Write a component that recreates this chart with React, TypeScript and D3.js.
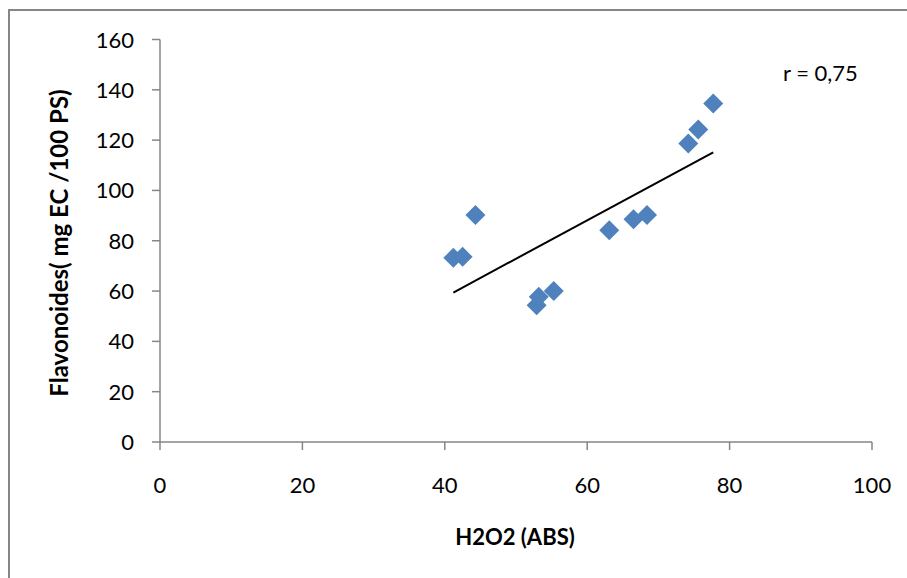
import React from "react";
import * as d3 from "d3";

const h2o2 = [41.2, 42.5, 44.3, 52.9, 53.2, 55.3, 63.1, 66.5, 68.4, 74.2, 75.6, 77.7];
const flavonoides = [73.2, 73.6, 90.2, 54.4, 57.7, 60.0, 84.2, 88.5, 90.2, 118.7, 124.2, 134.6];
const xTicks = [0, 20, 40, 60, 80, 100];
const yTicks = [0, 20, 40, 60, 80, 100, 120, 140, 160];
const xTitle = "H2O2 (ABS)";
const yTitle = "Flavonoides( mg EC /100 PS)";
const rLabel = "r = 0,75";

const W = 907;
const H = 578;
const FONT = "Lato, 'Open Sans', sans-serif";
const AXIS = "#868686";

export default function App() {
  const x = d3.scaleLinear().domain([0, 100]).range([160, 872]);
  const y = d3.scaleLinear().domain([0, 160]).range([442, 39.5]);

  const mx = d3.mean(h2o2) as number;
  const my = d3.mean(flavonoides) as number;
  let sxy = 0, sxx = 0;
  h2o2.forEach((v, i) => {
    sxy += (v - mx) * (flavonoides[i] - my);
    sxx += (v - mx) * (v - mx);
  });
  const slope = sxy / sxx;
  const icpt = my - slope * mx;
  const x0 = d3.min(h2o2) as number;
  const x1 = d3.max(h2o2) as number;
  const line = d3.line<number>().x((d) => x(d)).y((d) => y(icpt + slope * d));

  const diamond = d3.symbol().type(d3.symbolSquare).size(200)();

  return (
    <svg width={W} height={H} style={{ position: "absolute", left: 0, top: 0, background: "#fff" }}>
      <rect x={0} y={0} width={W} height={H} fill="#fff" />
      <rect x={9} y={10} width={W + 20} height={H + 20} fill="none" stroke={AXIS} strokeWidth={2} />
      <line x1={x(0)} x2={x(100)} y1={y(0)} y2={y(0)} stroke={AXIS} strokeWidth={1.5} />
      <line x1={x(0)} x2={x(0)} y1={y(0)} y2={y(160)} stroke={AXIS} strokeWidth={1.5} />
      {yTicks.map((t) => (
        <g key={"y" + t}>
          <line x1={x(0) - 8} x2={x(0)} y1={y(t)} y2={y(t)} stroke={AXIS} strokeWidth={1.5} />
          <text x={134} y={y(t) + 8} textAnchor="end" fontFamily={FONT} fontSize={22} fill="#000">
            {t}
          </text>
        </g>
      ))}
      {xTicks.map((t) => (
        <g key={"x" + t}>
          <line x1={x(t)} x2={x(t)} y1={y(0)} y2={y(0) + 8} stroke={AXIS} strokeWidth={1.5} />
          <text x={x(t)} y={493} textAnchor="middle" fontFamily={FONT} fontSize={22} fill="#000">
            {t}
          </text>
        </g>
      ))}
      <path d={line([x0, x1]) || ""} stroke="#000" strokeWidth={2} fill="none" />
      {h2o2.map((v, i) => (
        <path
          key={i}
          d={diamond || ""}
          transform={`translate(${x(v)},${y(flavonoides[i])}) rotate(45)`}
          fill="#4F81BD"
        />
      ))}
      <text x={783} y={81} fontFamily={FONT} fontSize={22} fill="#000">
        {rLabel}
      </text>
      <text x={515} y={545} textAnchor="middle" fontFamily={FONT} fontSize={22} fontWeight="bold" fill="#000">
        {xTitle}
      </text>
      <text
        transform={`translate(68,243) rotate(-90)`}
        textAnchor="middle"
        fontFamily={FONT}
        fontSize={24}
        fontWeight="bold"
        fill="#000"
      >
        {yTitle}
      </text>
    </svg>
  );
}
